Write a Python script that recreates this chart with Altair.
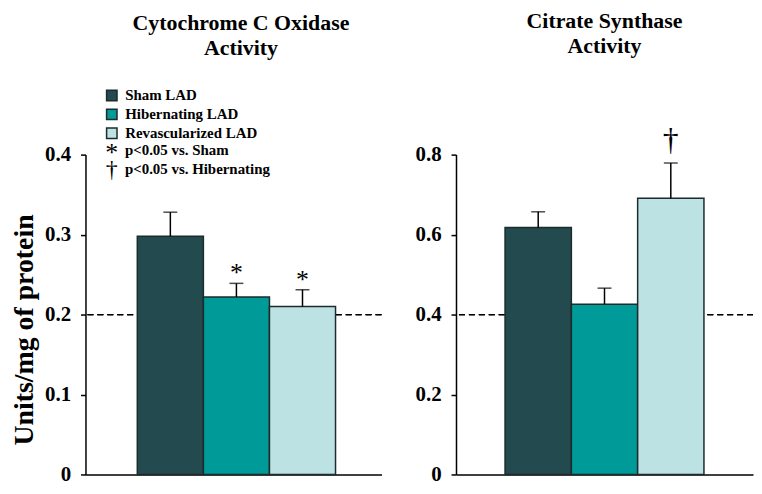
import altair as alt
import pandas as pd

groups = ["Sham LAD", "Hibernating LAD", "Revascularized LAD"]
colors = ["#234a4f", "#009a98", "#bde2e4"]

cox_mean = [0.298, 0.222, 0.210]
cox_err_top = [0.328, 0.239, 0.231]
cox_sig = ["", "*", "*"]
cox_ticks = [0, 0.1, 0.2, 0.3, 0.4]
cox_ref = 0.2
cox_title = ["Cytochrome C Oxidase", "Activity"]

cs_mean = [0.618, 0.426, 0.691]
cs_err_top = [0.657, 0.466, 0.779]
cs_sig = ["", "", "\u2020"]
cs_ticks = [0, 0.2, 0.4, 0.6, 0.8]
cs_ref = 0.4
cs_title = ["Citrate Synthase", "Activity"]

key_symbols = ["*", "\u2020"]
key_labels = ["p<0.05 vs. Sham", "p<0.05 vs. Hibernating"]
y_title = "Units/mg of protein"

FONT = "Liberation Serif"
EDGE = "#1c2b2b"


def panel(mean, top, sig, ticks, ref, title, width, align, first, sig_size, sig_dy, title_dx,
          title_offset):
    df = pd.DataFrame({"group": groups, "mean": mean, "top": top, "sig": sig})
    xenc = alt.X("group:N", sort=groups,
                 scale=alt.Scale(paddingInner=0, paddingOuter=0.74, align=align),
                 axis=alt.Axis(labels=False, ticks=False, title=None, domainColor="black",
                               domainWidth=1.5))
    yscale = alt.Scale(domain=[ticks[0], ticks[-1]], nice=False)
    axis_kw = dict(values=ticks, format="~g", grid=False, domainColor="black", domainWidth=1.5,
                   tickColor="black", tickWidth=1.5, tickSize=5, labelFont=FONT,
                   labelFontSize=21, labelFontWeight="bold", labelColor="black",
                   labelPadding=10)
    if first:
        axis_kw.update(title=y_title, titleFont=FONT, titleFontSize=28, titleFontWeight="bold",
                       titleColor="black", titleX=-61, titleY=176, titleAngle=270,
                       titleAlign="center", titleBaseline="middle")
        ytitle = y_title
    else:
        ytitle = None
    yaxis = alt.Axis(**axis_kw)

    base = alt.Chart(df)
    refline = base.mark_rule(color="black", strokeDash=[6, 4], strokeWidth=1.3).encode(
        y=alt.datum(ref, scale=yscale))
    if first:
        legend = alt.Legend(orient="none", legendX=19, legendY=-67, title=None,
                            symbolType="square", symbolSize=110, symbolStrokeColor=EDGE,
                            symbolStrokeWidth=1.5, symbolOpacity=1, labelFont=FONT,
                            labelFontSize=15, labelFontWeight="bold", labelColor="black",
                            labelOffset=6, rowPadding=2, padding=0)
    else:
        legend = None
    bars = base.mark_bar(stroke=EDGE, strokeWidth=1.5, opacity=1).encode(
        x=xenc,
        y=alt.Y("mean:Q", scale=yscale, axis=yaxis, title=ytitle),
        color=alt.Color("group:N", sort=groups,
                        scale=alt.Scale(domain=groups, range=colors), legend=legend),
    )
    err = base.mark_rule(color="black", strokeWidth=1.5).encode(
        x=alt.X("group:N", sort=groups), y="mean:Q", y2="top:Q")
    cap = base.mark_tick(color="black", thickness=1.5, size=14, orient="horizontal").encode(
        x=alt.X("group:N", sort=groups), y="top:Q")
    sigtext = base.mark_text(font=FONT, fontSize=sig_size, color="black", baseline="alphabetic",
                             dy=sig_dy).encode(
        x=alt.X("group:N", sort=groups), y="top:Q", text="sig:N")
    layers = [refline, bars, err, cap, sigtext]
    if first:
        ks = pd.DataFrame({"s": key_symbols, "l": key_labels})
        sym_size = [26, 24]
        sym_y = [6, 22.7]
        lab_y = [0, 20]
        for i in range(2):
            sub = ks.iloc[[i]]
            layers.append(alt.Chart(sub).mark_text(font=FONT, fontSize=sym_size[i], color="black",
                                                   align="center", baseline="alphabetic").encode(
                x=alt.value(26.5), y=alt.value(sym_y[i]), text="s:N"))
            layers.append(alt.Chart(sub).mark_text(font=FONT, fontSize=15, fontWeight="bold",
                                                   color="black", align="left",
                                                   baseline="alphabetic").encode(
                x=alt.value(39.7), y=alt.value(lab_y[i]), text="l:N"))
    return alt.layer(*layers).properties(
        width=width, height=322,
        title=alt.TitleParams(title, font=FONT, fontSize=22, fontWeight="bold", color="black",
                              lineHeight=25, anchor="middle", frame="group", dx=title_dx,
                              offset=title_offset),
    )


left = panel(cox_mean, cox_err_top, cox_sig, cox_ticks, cox_ref, cox_title, 298, 0.53, True,
             26, -2, 7.5, 28)
right = panel(cs_mean, cs_err_top, cs_sig, cs_ticks, cs_ref, cs_title, 299, 0.5, False,
              32, -13, 0, 67)

chart = alt.hconcat(left, right, spacing=32).properties(
    padding={"left": 3, "top": 0, "right": 0, "bottom": 0}
).configure_view(stroke=None).resolve_scale(y="independent", color="independent")

chart.save("out.html", embed_options={"renderer": "svg", "actions": False})
